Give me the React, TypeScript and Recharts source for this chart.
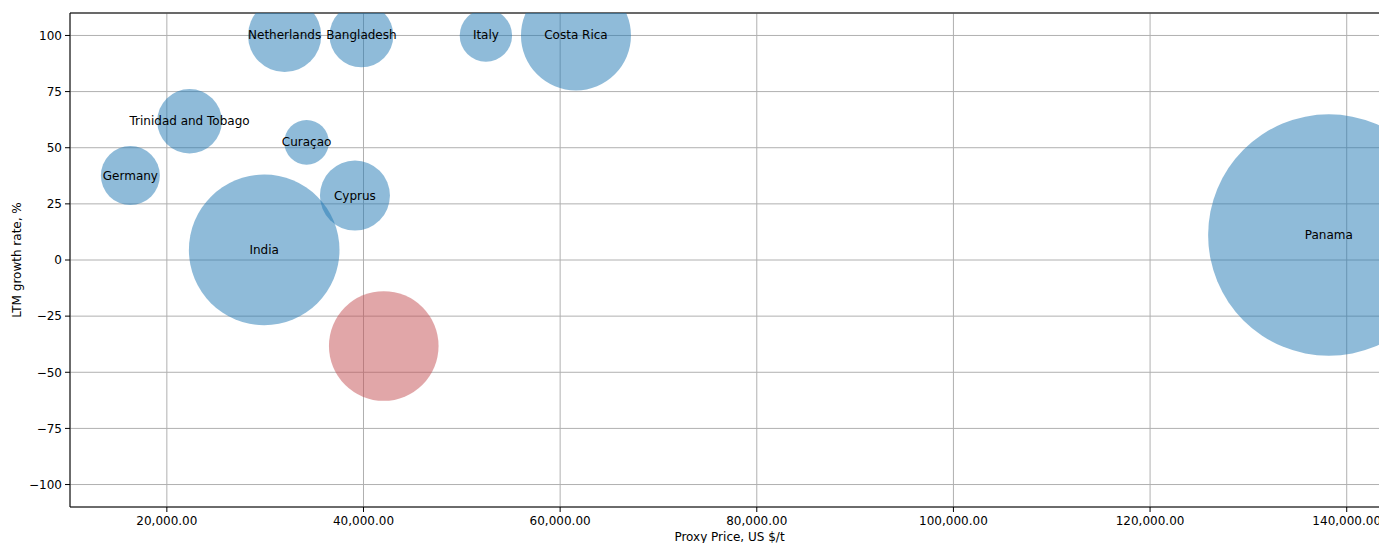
import React from 'react';
import {
  ScatterChart,
  Scatter,
  XAxis,
  YAxis,
  ZAxis,
  CartesianGrid,
  LabelList,
  ReferenceLine,
  Label,
} from 'recharts';

// ---- Data ----
const countries = [
  'Germany',
  'Trinidad and Tobago',
  'Netherlands',
  'Bangladesh',
  'Italy',
  'Costa Rica',
  'Curaçao',
  'Cyprus',
  'India',
  'Panama',
];
const proxyPrice = [16290, 22310, 31980, 39790, 52450, 61610, 34210, 39130, 29900, 138180];
const growthRate = [37.6, 61.8, 100, 100, 100, 100, 52.4, 28.7, 4.5, 11.1];
const tradeVolume = [870, 1043, 1340, 1018, 686, 3025, 497, 1225, 5670, 14569];

const declineNames = [''];
const declinePrice = [42060];
const declineGrowth = [-38.3];
const declineVolume = [3003];

const xTicks = [20000, 40000, 60000, 80000, 100000, 120000, 140000];
const yTicks = [-100, -75, -50, -25, 0, 25, 50, 75, 100];

const growthData = countries.map((name, i) => ({
  name,
  x: proxyPrice[i],
  y: growthRate[i],
  z: tradeVolume[i],
}));
const declineData = declineNames.map((name, i) => ({
  name,
  x: declinePrice[i],
  y: declineGrowth[i],
  z: declineVolume[i],
}));

const zMax = Math.max(...tradeVolume, ...declineVolume);

const fmtX = (v: number) =>
  v.toLocaleString('en-US', { minimumFractionDigits: 2, maximumFractionDigits: 2 });
const fmtY = (v: number) => (v < 0 ? '\u2212' + Math.abs(v) : String(v));

const FONT = 'DejaVu Sans, sans-serif';

const BubbleLabel = (props: any) => {
  const { x, y, width, height, value } = props;
  if (!value) return null;
  return (
    <text
      x={Number(x) + Number(width) / 2}
      y={Number(y) + Number(height) / 2}
      textAnchor="middle"
      dominantBaseline="central"
      fill="#000"
      fontSize={12}
      fontFamily={FONT}
    >
      {value}
    </text>
  );
};

export default function App() {
  return (
    <div
      style={{
        position: 'absolute',
        left: 0,
        top: 0,
        width: 1379,
        height: 543,
        overflow: 'hidden',
        background: '#fff',
      }}
    >
      <ScatterChart
        width={1389}
        height={543}
        margin={{ top: 13, right: 0, bottom: 0, left: 0 }}
        style={{ fontFamily: FONT }}
      >
        <CartesianGrid stroke="#b0b0b0" strokeWidth={1} />
        <XAxis
          type="number"
          dataKey="x"
          domain={[10150, 144300]}
          ticks={xTicks}
          tickFormatter={fmtX}
          height={36}
          tickSize={5}
          tickMargin={4}
          axisLine={{ stroke: '#000' }}
          tickLine={{ stroke: '#000' }}
          tick={{ fill: '#000', fontSize: 12, fontFamily: FONT }}
          allowDataOverflow
        >
          <Label
            value="Proxy Price, US $/t"
            position="insideBottom"
            offset={2}
            style={{ fill: '#000', fontSize: 12, fontFamily: FONT }}
          />
        </XAxis>
        <YAxis
          type="number"
          dataKey="y"
          domain={[-110, 110]}
          ticks={yTicks}
          tickFormatter={fmtY}
          width={70}
          tickSize={5}
          tickMargin={3}
          axisLine={{ stroke: '#000' }}
          tickLine={{ stroke: '#000' }}
          tick={{ fill: '#000', fontSize: 12, fontFamily: FONT }}
          allowDataOverflow
        >
          <Label
            value="LTM growth rate, %"
            angle={-90}
            position="insideLeft"
            offset={17}
            style={{ fill: '#000', fontSize: 12, fontFamily: FONT, textAnchor: 'middle' }}
          />
        </YAxis>
        <ZAxis type="number" dataKey="z" domain={[0, zMax]} range={[0, zMax * Math.PI]} />
        <ReferenceLine y={110} stroke="#444" strokeWidth={1.5} />
        <Scatter
          data={growthData}
          fill="#1f77b4"
          fillOpacity={0.5}
          isAnimationActive={false}
        >
          <LabelList dataKey="name" content={BubbleLabel} />
        </Scatter>
        <Scatter
          data={declineData}
          fill="#c44e52"
          fillOpacity={0.5}
          isAnimationActive={false}
        />
      </ScatterChart>
    </div>
  );
}
